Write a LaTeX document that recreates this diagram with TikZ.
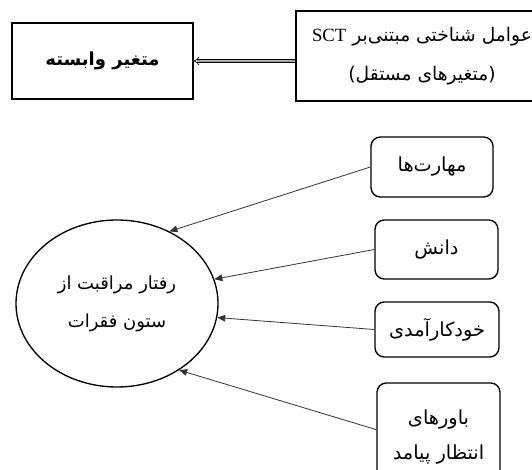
\documentclass[tikz,border=0pt]{standalone}
\usepackage{fontspec}
\setmainfont{Liberation Serif}
\newfontfamily\arabicfont[Script=Arabic]{DejaVu Sans}
\TeXXeTstate=1
\usetikzlibrary{arrows.meta,shapes.geometric}
\tikzset{
  sqbox/.style={draw, line width=1pt, inner sep=0pt, align=center},
  rbox/.style={draw, line width=1pt, rounded corners=7pt, inner sep=0pt, align=center},
  arr/.style={draw=black!80, line width=0.6pt, -{Triangle[length=6pt,width=5pt]}},
  ar/.style={font=\arabicfont\fontsize{14.5}{26}\selectfont},
  dbl/.style={double=gray!70, double distance=1.6pt, line width=0.5pt, -{Implies}}
}
\begin{document}
\begin{tikzpicture}[x=0.75pt,y=-0.75pt]
\useasboundingbox (0,0) rectangle (532,470);
\clip (0,0) rectangle (532,470);
\node[sqbox, minimum width=135.75pt, minimum height=57pt,
      font=\arabicfont\bfseries\fontsize{13.5}{16}\selectfont] (dep) at (102.5,61)
      {\beginR متغیر وابسته\endR};
\node[sqbox, minimum width=189pt, minimum height=67.5pt,
      font=\arabicfont\fontsize{14}{29}\selectfont] (ind) at (422,56)
      {\beginR عوامل شناختی مبتنی‌بر {\rmfamily\fontsize{14}{29}\selectfont SCT}\endR\\
       \beginR (متغیرهای مستقل)\endR};
\draw[dbl] (ind.west |- dep.east) -- (dep.east);

\node[draw, ellipse, line width=1pt, minimum width=151.5pt, minimum height=125.25pt,
      inner sep=0pt, align=center, font=\arabicfont\fontsize{13.5}{28.5}\selectfont] (e) at (117,303.5)
      {\beginR رفتار مراقبت از\endR\\\beginR ستون فقرات\endR};

\node[rbox, ar, minimum width=91.5pt, minimum height=45pt] (b1) at (432,167) {\beginR مهارت‌ها\endR};
\node[rbox, ar, minimum width=92.25pt, minimum height=44.25pt] (b2) at (436.5,249.5) {\beginR دانش\endR};
\node[rbox, ar, minimum width=93pt, minimum height=41.25pt] (b3) at (437,329.5) {\beginR خودکارآمدی\endR};
\node[rbox, ar, minimum width=92.25pt, minimum height=81pt] (b4) at (438.5,437)
      {\beginR باورهای\endR\\\beginR انتظار پیامد\endR};

\draw[arr] (b1.west) -- (e.54);
\draw[arr] (b2.west) -- (e.14.6);
\draw[arr] (b3.west) -- (e.-8.2);
\draw[arr] ([yshift=5.5pt]b4.west) -- (e.-47.4);
\end{tikzpicture}
\end{document}
